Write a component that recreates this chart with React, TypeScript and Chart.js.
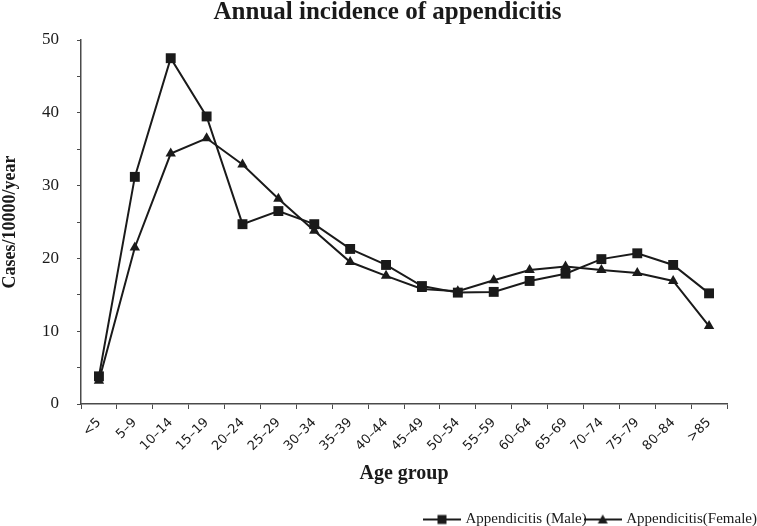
import React, { useEffect, useRef } from "react";
import { Chart, registerables } from "chart.js";

Chart.register(...registerables);

const ageGroups = [
  "<5", "5–9", "10–14", "15–19", "20–24", "25–29", "30–34", "35–39", "40–44",
  "45–49", "50–54", "55–59", "60–64", "65–69", "70–74", "75–79", "80–84", ">85",
];
const maleIncidence = [
  3.8, 31.2, 47.5, 39.5, 24.7, 26.5, 24.7, 21.3, 19.1,
  16.2, 15.3, 15.4, 16.9, 17.9, 19.9, 20.7, 19.1, 15.2,
];
const femaleIncidence = [
  3.2, 21.5, 34.4, 36.5, 32.9, 28.2, 23.8, 19.5, 17.6,
  15.8, 15.5, 17.0, 18.4, 18.9, 18.4, 18.0, 16.9, 10.7,
];
const seriesLabels = ["Appendicitis (Male)", "Appendicitis(Female)"];
const yMin = 0;
const yMax = 50;
const yStep = 5;
const yLabelEvery = 10;

const SERIF = "'Liberation Serif', 'Times New Roman', serif";
const INK = "#1a1a1a";
const AXIS = "#4a4a4a";

function makeLegendIcon(kind: "rect" | "triangle"): HTMLCanvasElement {
  const c = document.createElement("canvas");
  c.width = 38;
  c.height = 14;
  const ctx = c.getContext("2d")!;
  ctx.strokeStyle = INK;
  ctx.lineWidth = 2;
  ctx.beginPath();
  ctx.moveTo(0, 7);
  ctx.lineTo(38, 7);
  ctx.stroke();
  ctx.fillStyle = INK;
  if (kind === "rect") {
    ctx.fillRect(14.5, 2.5, 9, 9);
  } else {
    ctx.beginPath();
    ctx.moveTo(19, 2);
    ctx.lineTo(24, 11);
    ctx.lineTo(14, 11);
    ctx.closePath();
    ctx.fill();
  }
  return c;
}

export default function App() {
  const canvasRef = useRef<HTMLCanvasElement | null>(null);

  useEffect(() => {
    document.body.style.margin = "0";
    const canvas = canvasRef.current;
    if (!canvas) return;
    const icons = [makeLegendIcon("rect"), makeLegendIcon("triangle")];

    const titleShift = {
      id: "titleShift",
      afterLayout(chart: any) {
        const t = chart.titleBlock;
        if (t) t.left += 18;
      },
    };

    const chart = new Chart(canvas, {
      type: "line",
      data: {
        labels: ageGroups,
        datasets: [
          {
            label: seriesLabels[0],
            data: maleIncidence,
            borderColor: INK,
            backgroundColor: INK,
            borderWidth: 2,
            pointStyle: "rect",
            pointRadius: 7,
            pointBackgroundColor: INK,
            pointBorderColor: INK,
            pointBorderWidth: 0,
            tension: 0,
          },
          {
            label: seriesLabels[1],
            data: femaleIncidence,
            borderColor: INK,
            backgroundColor: INK,
            borderWidth: 2,
            pointStyle: "triangle",
            pointRadius: 6,
            pointBackgroundColor: INK,
            pointBorderColor: INK,
            pointBorderWidth: 0,
            tension: 0,
          },
        ],
      },
      options: {
        animation: false,
        responsive: false,
        maintainAspectRatio: false,
        layout: { padding: { left: 0, right: 0, top: 0, bottom: -11 } },
        plugins: {
          title: {
            display: true,
            text: "Annual incidence of appendicitis",
            color: INK,
            font: { family: SERIF, size: 25, weight: "bold" },
            padding: { top: -2, bottom: 12 },
          },
          legend: {
            display: true,
            position: "bottom",
            align: "end",
            labels: {
              usePointStyle: true,
              pointStyleWidth: 32,
              padding: 0,
              color: INK,
              font: { family: SERIF, size: 15 },
              generateLabels: (ch: any) =>
                ch.data.datasets.map((ds: any, i: number) => ({
                  text: ds.label,
                  pointStyle: icons[i],
                  fillStyle: INK,
                  strokeStyle: INK,
                  lineWidth: 0,
                  hidden: false,
                  datasetIndex: i,
                  fontColor: INK,
                })),
            },
          },
          tooltip: { enabled: false },
        },
        scales: {
          x: {
            type: "category",
            offset: true,
            grid: {
              display: true,
              offset: true,
              drawOnChartArea: false,
              drawTicks: true,
              tickLength: 5,
              color: AXIS,
              lineWidth: 1,
            },
            border: { display: true, color: AXIS, width: 1.5 },
            ticks: {
              autoSkip: false,
              maxRotation: 45,
              minRotation: 45,
              padding: 6,
              color: INK,
              font: { family: "'DejaVu Sans', sans-serif", size: 13 },
            },
            title: {
              display: true,
              text: "Age group",
              color: INK,
              font: { family: SERIF, size: 20, weight: "bold" },
              padding: { top: 0, bottom: 26 },
            },
            afterFit: (scale: any) => {
              scale.height = 108;
            },
          },
          y: {
            min: yMin,
            max: yMax,
            grid: {
              display: true,
              drawOnChartArea: false,
              drawTicks: true,
              tickLength: 4,
              color: AXIS,
              lineWidth: 1,
            },
            border: { display: true, color: AXIS, width: 1.5 },
            ticks: {
              stepSize: yStep,
              padding: 18,
              color: INK,
              font: { family: SERIF, size: 17 },
              callback: (v: any) => (Number(v) % yLabelEvery === 0 ? String(v) : ""),
            },
            title: {
              display: true,
              text: "Cases/10000/year",
              color: INK,
              font: { family: SERIF, size: 18, weight: "bold" },
              padding: { top: 0, bottom: 0 },
            },
            afterFit: (scale: any) => {
              scale.width = 81;
            },
          },
          rightSpacer: {
            type: "linear",
            position: "right",
            display: true,
            grid: { display: false, drawTicks: false },
            border: { display: false },
            ticks: { display: false },
            afterFit: (scale: any) => {
              scale.width = 30;
            },
          },
        },
      },
      plugins: [titleShift],
    } as any);

    return () => {
      chart.destroy();
    };
  }, []);

  return (
    <div style={{ width: 757, height: 526 }}>
      <canvas ref={canvasRef} width={757} height={526} style={{ display: "block" }} />
    </div>
  );
}
